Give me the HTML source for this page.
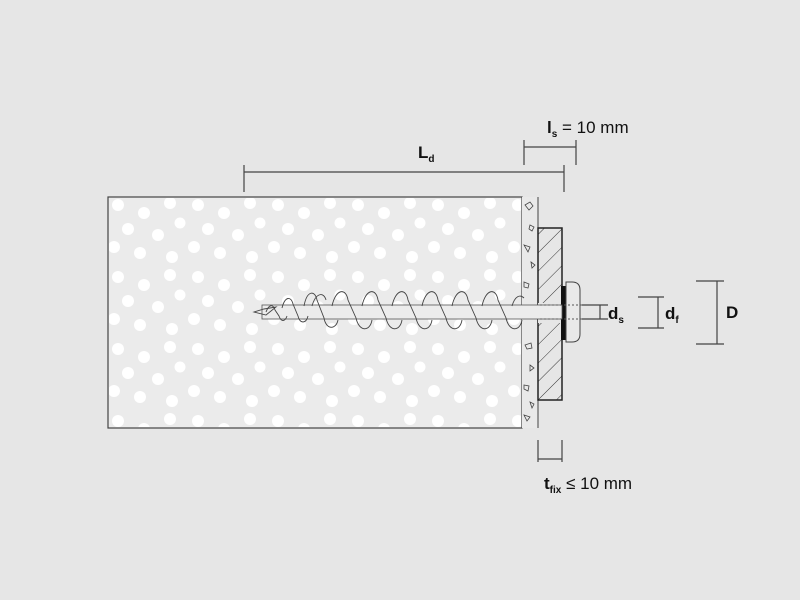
<!DOCTYPE html>
<html><head><meta charset="utf-8"><style>
html,body{margin:0;padding:0;background:#e6e6e6;}
svg{display:block}
text{font-family:"Liberation Sans",sans-serif;font-weight:bold;fill:#111}
</style></head><body>
<svg width="800" height="600" viewBox="0 0 800 600" xmlns="http://www.w3.org/2000/svg">
<defs>
<pattern id="dots" x="108" y="197" width="80" height="72" patternUnits="userSpaceOnUse">
<circle cx="10" cy="8" r="6" fill="#fff"/><circle cx="36" cy="16" r="6" fill="#fff"/><circle cx="62" cy="6" r="6" fill="#fff"/>
<circle cx="20" cy="32" r="6" fill="#fff"/><circle cx="50" cy="38" r="6" fill="#fff"/><circle cx="72" cy="26" r="5.5" fill="#fff"/>
<circle cx="6" cy="50" r="6" fill="#fff"/><circle cx="32" cy="56" r="6" fill="#fff"/><circle cx="64" cy="60" r="6" fill="#fff"/>
</pattern>
<pattern id="hatch" width="13" height="13" patternUnits="userSpaceOnUse" patternTransform="rotate(45)">
<rect width="13" height="13" fill="#e6e6e6"/><line x1="0" y1="0" x2="0" y2="13" stroke="#333" stroke-width="1"/>
</pattern>
</defs>
<rect x="108" y="197" width="414" height="231" fill="#ebebeb" stroke="#444" stroke-width="1.2"/>
<rect x="109" y="198" width="412" height="229" fill="url(#dots)"/>
<rect x="522" y="197" width="16" height="231" fill="#e9e9e9"/>
<line x1="538" y1="197" x2="538" y2="428" stroke="#444"/>
<g fill="none" stroke="#444" stroke-width="0.8">
<path d="M525 205l5-3 3 4-4 4z"/><path d="M530 225l4 2-2 4-3-2z"/><path d="M524 245l6 2-2 5z"/><path d="M531 262l4 3-3 3z"/>
<path d="M524 282l5 2-1 4-4-1z"/><path d="M525 345l6-2 1 5-5 1z"/><path d="M530 365l4 3-4 3z"/><path d="M524 385l5 1-1 5-4-2z"/>
<path d="M530 402l4 2-2 4z"/><path d="M524 415l6 2-3 4z"/>
</g>
<rect x="538" y="228" width="24" height="172" fill="url(#hatch)" stroke="#222" stroke-width="1.5"/>
<rect x="538" y="303" width="24" height="20" fill="#e6e6e6"/>
<rect x="561" y="286" width="5" height="54" fill="#111"/>
<path d="M566 282 h6 q8 0 8 8 v44 q0 8 -8 8 h-6 z" fill="#e9e9e9" stroke="#444"/>
<rect x="262" y="305" width="300" height="14" fill="#ececec" stroke="#555" stroke-width="0.8"/>
<line x1="540" y1="305" x2="600" y2="305" stroke="#555" stroke-dasharray="2,2"/>
<line x1="540" y1="319" x2="600" y2="319" stroke="#555" stroke-dasharray="2,2"/>
<g fill="none" stroke="#444" stroke-width="0.9">
<path d="M254 312 l10 -3 l12 -2 l-10 8z"/>
<path d="M266 312 c3 -8 7 -8 9 -2 l4 6 c2 6 6 6 8 0"/>
<path d="M282 308 c3 -12 9 -12 11 -4 l5 12 c2 8 8 8 10 0"/>
<path d="M304 306 c3 -16 11 -16 13 -6 l7 18 c2 12 12 12 14 2"/>
<path d="M312 306 c4 -14 12 -14 14 -6"/>
<path d="M332 306 c4 -18 14 -18 16 -6 l8 18 c3 14 14 14 16 2"/>
<path d="M362 306 c4 -18 14 -18 16 -6 l8 18 c3 14 14 14 16 2"/>
<path d="M392 306 c4 -18 14 -18 16 -6 l8 18 c3 14 14 14 16 2"/>
<path d="M422 306 c4 -18 14 -18 16 -6 l8 18 c3 14 14 14 16 2"/>
<path d="M452 306 c4 -18 14 -18 16 -6 l8 18 c3 14 14 14 16 2"/>
<path d="M482 306 c4 -18 14 -18 16 -6 l8 18 c3 14 14 14 16 2"/>
<path d="M512 306 c3 -10 8 -12 12 -8"/>
</g>
<g stroke="#444" stroke-width="1.2" fill="none">
<path d="M244 165v27M564 165v27M244 172h320"/>
<path d="M524 140v25M576 140v25M524 147h52"/>
<path d="M538 440v22M562 440v22M538 459h24"/>
<path d="M582 305h26M582 319h26M600 305v14"/>
<path d="M638 297h26M638 328h26M658 297v31"/>
<path d="M696 281h28M696 344h28M717 281v63"/>
</g>
<text x="418" y="158" font-size="17">L<tspan font-size="10" dy="4">d</tspan></text>
<text x="547" y="133" font-size="17">l<tspan font-size="10" dy="4">s</tspan><tspan dy="-4" font-weight="normal"> = 10 mm</tspan></text>
<text x="608" y="319" font-size="17">d<tspan font-size="10" dy="4">s</tspan></text>
<text x="665" y="319" font-size="17">d<tspan font-size="10" dy="4">f</tspan></text>
<text x="726" y="318" font-size="17">D</text>
<text x="544" y="489" font-size="17">t<tspan font-size="10" dy="4">fix</tspan><tspan dy="-4" font-weight="normal"> ≤ 10 mm</tspan></text>
</svg>
</body></html>
